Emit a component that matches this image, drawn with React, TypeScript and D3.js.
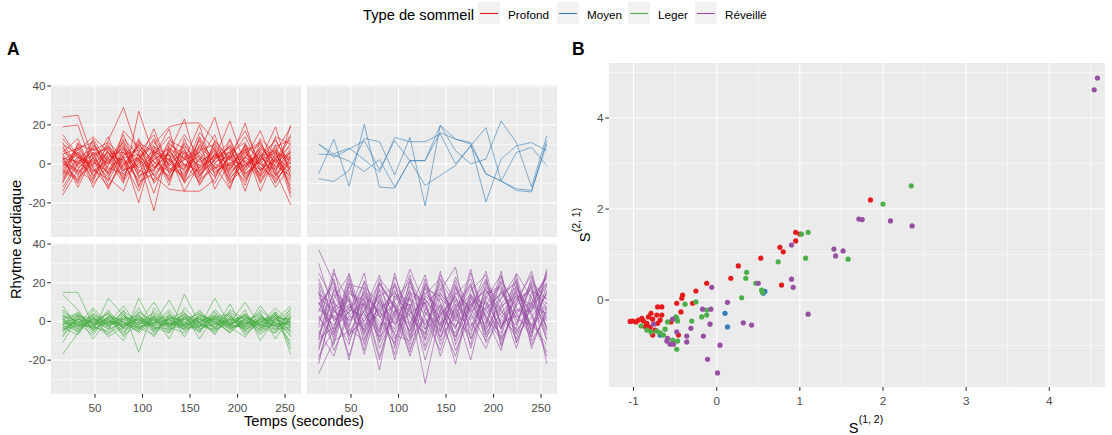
import React from "react";
import * as d3 from "d3";

// ---------- DATA ----------
const temps = [16, 32, 48, 64, 80, 96, 112, 128, 144, 160, 176, 192, 208, 224, 240, 256];

const groupNames = ["Profond", "Moyen", "Leger", "Réveillé"];
const groupColors = ["#E41A1C", "#377EB8", "#4DAF4A", "#984EA3"];

const profondSeries = [
  [24, 25, 3, -5, 8, 2, -3, 6, 0, -4, 5, 2, -1, 4, -6, 3],
  [19, 20, -2, 6, -4, 10, 1, -7, 3, 8, -2, 0, 6, -3, 2, -5],
  [15, 4, -8, 12, 29, 5, -6, 2, -3, 7, 10, -4, 3, 0, 8, -2],
  [-16, -3, 8, 2, -10, 27, 4, -8, 6, -1, 3, 12, -5, 2, 6, 19],
  [5, -6, 10, -3, 4, -20, 8, 2, -9, 14, 0, -3, 7, 11, -4, -21],
  [-2, 9, -4, 7, 0, 3, -24, 10, 5, -6, 2, 9, -8, 4, 12, 0],
  [8, 0, 12, -5, 6, -2, 4, 18, -10, 3, -7, 5, 1, -6, 3, 9],
  [-7, 4, -1, 9, -8, 13, -2, 6, 23, -4, 8, -12, 5, 0, -3, 6],
  [3, -10, 6, 0, 15, -5, 9, -3, 2, 20, -6, 4, -2, 8, 1, -9],
  [0, 6, -12, 4, 2, -8, 7, 0, -5, 6, 24, -3, 10, -7, 5, 2],
  [11, -2, 5, -9, 7, 1, -4, 12, 8, -11, 3, 22, -1, 6, -10, 4],
  [-9, 2, 0, 14, -6, 4, 10, 19, 21, 21, 12, 2, 21, -4, 7, -13],
  [6, 13, -6, 1, 9, -12, 3, 5, -14, 0, 7, -5, 3, 17, -2, 11],
  [-4, -8, 3, -13, 5, 7, -9, 1, 10, -3, 4, 8, -6, 2, 19, -7],
  [2, 7, 14, 6, -3, 0, 12, -5, 4, -8, -2, 6, 11, -9, 0, 14],
  [-12, 1, -5, 3, 11, -7, 0, 9, -2, 12, -13, 1, -4, 7, -5, 20],
  [9, -5, 2, -7, -14, 6, 15, -1, 7, -2, 9, -10, 2, -3, 10, -15],
  [-5, 10, 7, 11, 3, -9, -5, 3, -8, 9, 1, 4, -11, 12, -6, 7],
  [1, -3, -9, 8, -1, 11, 6, -11, 13, -6, 5, -1, 8, -14, 4, -3],
  [13, 3, 1, -4, 12, -3, -8, 7, -4, 2, 15, -7, 0, 5, -8, 1],
  [-6, 8, 11, -2, -5, 2, 13, -4, 6, -10, 0, 10, -3, 9, 3, -11],
  [4, -12, 4, 9, 1, -14, 5, 14, -1, 4, -5, 3, 14, -2, -7, 5],
  [-1, 5, -3, -8, 17, 8, -1, -6, 9, 1, 6, -8, 4, -5, 9, 12],
  [7, -1, 9, 3, -7, 1, 18, -2, -6, 13, -3, 7, -7, 3, -1, -6],
  [-10, 11, -7, 5, 6, -4, 2, 8, 3, -7, 11, -2, 9, -10, 6, 3],
  [3, 1, 6, -11, 0, 9, -6, -13, -14, -14, -8, 13, -5, 1, 13, -4],
  [-3, -7, 0, 6, -9, 3, 9, 4, -9, -2, 5, -6, 6, 10, -3, 8],
  [10, 5, -4, 2, 8, -6, -3, 11, 2, 6, -4, 0, -9, 4, 7, -17],
  [-8, 3, 8, -6, 4, 12, -10, 0, 7, -5, 2, 9, 1, -8, 2, 15],
  [0, -4, 3, 10, -3, -1, 7, -9, 11, 3, -10, 5, 17, 0, -9, 2],
  [5, 8, -10, -1, 13, 4, -2, 5, -3, 16, 7, -9, -2, 13, 5, -8],
  [-14, 0, 5, 8, -2, 10, 1, -4, 0, -9, 12, 3, 7, -6, 14, 10],
  [2, -9, 13, 0, 10, -11, 6, 2, 15, 4, -1, -13, 10, 2, -12, -1],
  [-3, 6, -2, -12, 3, 5, -15, 8, -7, 10, 3, 6, -14, 8, 1, 6],
];

const moyenSeries = [
  [-5, 12.7, -11.4, 20.3, -11.9, -12.4, 1.7, 1.7, 19.8, 12.7, 11, -5.1, -8.8, 5.9, 8.5, -0.8],
  [10.2, 5.1, 8.1, 2.2, -4.2, 13.6, 11.4, 11.4, 15.3, 0, 9.3, 18.6, -8.8, -12.7, -13.6, 10.2],
  [-7.6, -9, -3.4, 13.1, 11.4, -5.6, 13.6, -21.5, 19.8, 6.8, 0, 2.5, 22, 11, -11.9, 14.4],
  [5.1, 4.6, 1.4, -3.9, 2.2, -11.9, 1.7, -11, -5.9, -0.8, 9.3, -5.1, -8.8, -13.6, -14.4, 11.9],
  [10.2, 3.4, 7.6, 11.9, -2.9, 11.9, 1.7, 1.7, 16.1, 12.7, 10.2, -19.5, 2.5, 9.3, 11, 6.8],
];

const legerSeries = [
  [15, 15, -2, 5, -8, 12, -3, 1, -4, 3, 0, -2, 4, -5, 1, 8],
  [14, 6, -5, 12, 3, -4, 2, -6, 14, -1, 5, -3, -8, 2, -4, -3],
  [8, -3, 4, -2, -10, 5, -1, 11, -3, 2, -7, 6, 1, -4, 5, -17],
  [-17, -6, 2, -4, 6, -16, 7, -2, 4, -9, 3, -1, 10, -3, -6, 2],
  [-2, 3, -9, 1, -3, 2, -8, 4, -2, 6, -4, 9, -5, 1, 3, -12],
  [0, -4, 3, -1, 8, -3, 1, -5, 2, -3, 12, -2, 3, -7, 0, 6],
  [-5, 1, -2, -7, 2, -1, 10, -3, -6, 1, -2, 4, -3, 8, -2, -5],
  [3, -2, 0, 4, -4, 7, -5, 2, 0, -4, 1, -6, 2, -1, 7, -1],
  [-8, 4, -4, 0, -1, -5, 3, -9, 7, -1, -5, 2, -2, 5, -9, 3],
  [1, -6, 6, -3, 3, 0, -2, 5, -8, 4, -1, -3, 6, -10, 2, -8],
  [-3, 0, -1, 2, -6, 3, -4, 0, 3, -6, 6, -1, -4, 3, -3, 0],
  [5, -1, -3, -5, 1, -2, 5, -1, -2, 2, -3, 1, -1, -2, 4, -6],
  [-1, -3, 1, -2, 0, -6, 0, 3, -5, 0, 2, -4, 0, 4, -5, 5],
  [-6, 2, -6, 3, -3, 1, -3, -4, 1, -2, -4, 3, -6, 0, 1, -2],
  [2, -5, 2, -1, 4, -4, 2, -2, -1, 5, -1, -5, 2, -3, -2, -10],
  [-4, 1, 0, -6, -2, 4, -6, 1, -3, -3, 4, 0, -2, 1, 2, 1],
  [0, -2, -2, 1, -5, -1, 1, -3, 4, -1, -6, 2, -3, -1, -1, -4],
  [-2, 5, -5, 2, 1, -3, -1, 6, -2, 1, 0, -4, 1, -5, 3, -1],
  [4, -4, 1, -4, -1, 2, -4, -1, 0, -5, 2, -2, 4, -2, -4, 3],
  [-7, 0, -3, 6, -4, 0, 4, -2, 2, -1, -3, 3, -5, 2, 0, -7],
  [1, 3, -1, -3, 3, -2, -2, -1, -4, 3, 1, -1, 0, -4, 3, 0],
  [-3, -7, 4, 0, -2, 1, -5, 2, 1, -2, -2, 5, -1, 0, -2, 4],
  [6, -1, -7, 3, 0, -4, 2, -4, -2, 0, 3, -3, -2, 6, -1, -2],
  [-11, 2, 0, -2, 2, -1, -1, 1, 5, -4, -1, 0, 3, -3, 4, -14],
  [-1, -1, 3, -8, -3, 5, 0, -2, -1, 2, 1, -2, -3, 1, -6, 7],
  [2, 4, -2, 1, -7, -2, 3, 0, -3, -1, -5, 1, 2, -2, 1, -3],
  [-4, -2, 7, -1, 1, 3, -3, -6, 3, 1, 0, -6, 1, 3, -3, 1],
  [0, 1, -1, 4, -1, -3, -7, 3, -1, -3, 2, 4, -7, 0, 2, -5],
  [-2, -5, 2, -2, 5, 0, 2, -1, 1, 4, -4, -1, 1, -6, 0, 2],
  [3, 0, -4, 0, -3, 2, -1, 1, -4, -2, 2, -3, -1, 2, -1, -1],
  [-5, 3, 1, -1, 0, -5, 1, -3, 2, 0, -1, 1, -4, -1, 5, -3],
  [1, -2, -3, 2, -2, 1, -2, 2, -2, -5, 3, -2, 3, -2, -2, 0],
];

const reveilleSeries = [
  [37, 20, -8, 15, 3, -12, 22, 5, -6, 18, 2, 10, -4, 14, 8, 25],
  [30, 5, 12, -15, 20, 8, -5, 14, 22, -3, 9, 16, 5, -2, 20, 6],
  [-27, -10, 18, 4, -8, 25, -3, 10, -12, 7, 20, -5, 12, 24, -6, 27],
  [-20, 8, -18, 10, -2, 0, 13, -20, 6, -8, 14, 3, -10, 8, 18, -22],
  [10, -4, 5, 25, -11, 6, -14, 3, 16, 28, -9, 8, 20, -7, 2, 14],
  [5, 22, -6, 0, 14, -20, 9, -32, 4, 12, 0, -14, 7, 16, -12, 5],
  [-8, 12, 24, -9, 6, 15, 2, -6, 26, -12, 7, 22, -2, 5, 10, -9],
  [15, -15, 3, 10, -18, 4, 27, 8, -8, 3, 18, -1, 26, -11, 9, 20],
  [-3, 3, -12, 18, 9, -7, -10, 20, 0, -18, 11, 6, -8, 19, -3, 10],
  [20, 0, 9, -5, 22, 12, 5, -4, 14, 6, -20, 13, 3, -4, 23, -5],
  [-15, 17, 6, 3, -5, 20, -8, 12, -2, 23, 4, -10, 16, 2, 7, 18],
  [2, -8, 20, -12, 11, -2, 16, -13, 9, -4, 25, 1, -6, 22, -10, 3],
  [12, 6, -3, 21, 2, 9, -18, 6, 19, 1, -7, 18, 10, -14, 13, 22],
  [-10, 25, 10, -3, 16, -9, 7, 24, -5, 15, 6, -3, 21, 7, -1, -12],
  [7, -2, 15, 7, -25, 14, 11, -1, 8, -10, 16, 24, -12, 10, 17, 9],
  [25, 10, -20, 13, 5, -4, 20, 2, -15, 9, 1, 7, 14, 20, -6, 16],
  [-5, -18, 8, 0, 13, 18, -1, 15, 5, -22, 13, -8, 2, 11, 24, 0],
  [0, 14, -2, 16, -8, 2, 24, -10, 12, 4, -3, 15, 18, -5, 6, 24],
  [18, -6, 13, -7, 19, 7, -12, 18, -3, 14, 22, 2, -15, 17, 3, -18],
  [-12, 5, 1, 12, -4, 23, 3, -7, 21, 8, -12, 20, 6, -9, 15, 12],
  [8, 20, -10, 6, 24, -14, 15, 11, 2, -6, 9, -2, 23, 4, -8, 26],
  [-18, -4, 22, -6, 8, 10, -5, 22, -10, 17, 5, 11, -4, 25, 12, -3],
  [14, 9, 4, 20, -14, 5, 9, -2, 15, 0, 27, -7, 8, 13, -4, 8],
  [3, -12, 16, 8, 0, -11, 18, 7, -5, 21, -5, 14, 17, -1, 19, -10],
  [-2, 27, -4, -10, 17, 3, -16, 13, 7, -3, 12, 9, -9, 6, 5, 20],
  [22, 1, 7, 14, -6, 19, 6, -9, 24, 10, -2, 4, 12, 21, -14, 7],
  [-22, 11, -7, 2, 10, -6, 12, 4, -1, 6, 19, -11, 1, -6, 10, 23],
  [10, -7, 25, -2, 4, 16, -7, 19, 10, -15, 3, 21, -13, 9, 26, -4],
  [-7, 16, 0, 9, -20, 11, 21, -4, 3, 13, -9, 6, 15, 1, -2, 15],
  [6, 2, 11, -17, 12, -1, 4, 10, -18, 5, 14, -4, 9, 18, 4, -16],
  [16, -10, -5, 5, 20, 7, -2, 17, 13, -8, 8, 17, -1, 3, 21, 11],
  [-14, 7, 14, 11, -10, 13, 8, -15, 6, 19, -14, 12, 24, -11, 8, 4],
  [9, 18, 3, -4, 7, -17, 14, 9, 17, 2, 10, -6, 4, 15, -8, 19],
  [-9, -3, 19, 17, 3, 8, -9, 1, -8, 11, 6, 26, -3, 12, 16, -7],
];

// Panel B: S(1,2) and S(2,1) per recording
const profondS12 = [1.85, 0.95, 1.0, 0.95, 0.76, 0.8, 0.53, 0.26, 0.17, -0.12, 0.78, -0.25, -0.29, -0.41, -0.42, -0.48, -0.43, -0.71, -0.66, -0.79, -0.72, -0.66, -0.82, -0.77, -0.9, -0.88, -1.01, -0.97, -0.94, -0.84, -0.71, -0.55, -0.74, -0.77, -0.46, -0.84, -1.04, -0.86, -0.8, -0.68];
const profondS21 = [2.2, 1.49, 1.45, 1.3, 1.16, 1.06, 0.92, 0.75, 0.48, 0.37, 0.33, 0.2, -0.07, 0.11, 0.04, -0.07, -0.26, -0.15, -0.15, -0.29, -0.33, -0.33, -0.37, -0.42, -0.4, -0.46, -0.46, -0.48, -0.44, -0.51, -0.51, -0.48, -0.66, -0.77, -0.77, -0.55, -0.47, -0.58, -0.6, -0.44];

const moyenS12 = [-0.68, 0.1, 0.13, 0.56, 0.58];
const moyenS21 = [-0.77, -0.29, -0.59, 0.15, 0.19];

const legerS12 = [2.34, 2.0, 1.02, 1.1, 1.07, 1.58, 0.74, 0.36, 0.35, 0.47, 0.54, 0.55, -0.25, 0.3, -0.12, -0.12, -0.18, -0.3, -0.38, -0.91, -0.84, -0.79, -0.62, -0.64, -0.68, -0.59, -0.48, -0.47, -0.49, -0.53, -0.47, -0.48, -0.72];
const legerS21 = [2.51, 2.11, 1.45, 1.49, 0.92, 0.9, 0.84, 0.61, 0.48, 0.37, 0.22, 0.17, -0.04, 0.05, -0.22, -0.33, -0.37, -0.46, -0.09, -0.57, -0.66, -0.7, -0.64, -0.77, -0.72, -0.48, -0.4, -0.46, -0.37, -0.88, -0.9, -1.08, -0.68];

const reveilleS12 = [4.58, 4.54, 1.71, 1.75, 2.09, 2.35, 0.9, 1.41, 1.52, 1.43, 0.9, 0.5, -0.06, 0.92, 0.13, -0.17, -0.07, 1.1, -0.08, 0.32, 0.42, -0.31, -0.16, 0.04, -0.11, 0.01, -0.76, -0.53, -0.48, -0.59, -0.6, -0.56, -0.52, -0.36, -0.36];
const reveilleS21 = [4.88, 4.62, 1.78, 1.77, 1.74, 1.63, 1.21, 1.12, 1.08, 0.97, 0.46, 0.37, 0.28, 0.28, -0.05, -0.2, -0.2, -0.31, -0.53, -0.5, -0.55, -0.62, -0.79, -0.99, -1.3, -1.6, -0.53, -0.42, -0.7, -0.84, -0.9, -0.97, -0.97, -0.79, -0.92];

const xTicksA = [50, 100, 150, 200, 250];
const yTicksA = [-20, 0, 20, 40];
const xTicksB = [-1, 0, 1, 2, 3, 4];
const yTicksB = [0, 2, 4];

// ---------- LAYOUT ----------
const W = 1112;
const H = 435;
const FONT = "'Liberation Sans', Arial, sans-serif";
const PANEL_BG = "#EBEBEB";
const AXIS_TEXT = "#4D4D4D";
const TICK_COL = "#333333";

const colA = [
  { x0: 51, x1: 301 },
  { x0: 307, x1: 557 },
];
const rowA = [
  { y0: 85, y1: 237 },
  { y0: 243, y1: 394 },
];
const xDomA: [number, number] = [3.7, 266.8];
const yDomA: [number, number] = [-37.5, 40.5];

const panelB = { x0: 609, x1: 1105, y0: 63, y1: 387 };
const xDomB: [number, number] = [-1.295, 4.67];
const yDomB: [number, number] = [-1.91, 5.21];

function midpoints(ticks: number[], lo: number, hi: number) {
  const out: number[] = [];
  const step = ticks[1] - ticks[0];
  for (let t = ticks[0] - step / 2; t <= hi; t += step) {
    if (t >= lo) out.push(t);
  }
  return out;
}

function FacetPanel({ series, color, col, row, showX, showY }: any) {
  const { x0, x1 } = colA[col];
  const { y0, y1 } = rowA[row];
  const x = d3.scaleLinear().domain(xDomA).range([x0, x1]);
  const y = d3.scaleLinear().domain(yDomA).range([y1, y0]);
  const line = d3
    .line<number>()
    .x((_, i) => x(temps[i]))
    .y((d) => y(d));
  const xMinor = midpoints(xTicksA, xDomA[0], xDomA[1]);
  const yMinor = midpoints(yTicksA, yDomA[0], yDomA[1]);
  return (
    <g>
      <rect x={x0} y={y0} width={x1 - x0} height={y1 - y0} fill={PANEL_BG} />
      {yMinor.map((t) => (
        <line key={"ym" + t} x1={x0} x2={x1} y1={y(t)} y2={y(t)} stroke="#fff" strokeWidth={0.55} />
      ))}
      {xMinor.map((t) => (
        <line key={"xm" + t} x1={x(t)} x2={x(t)} y1={y0} y2={y1} stroke="#fff" strokeWidth={0.55} />
      ))}
      {yTicksA.map((t) => (
        <line key={"yM" + t} x1={x0} x2={x1} y1={y(t)} y2={y(t)} stroke="#fff" strokeWidth={1.07} />
      ))}
      {xTicksA.map((t) => (
        <line key={"xM" + t} x1={x(t)} x2={x(t)} y1={y0} y2={y1} stroke="#fff" strokeWidth={1.07} />
      ))}
      <g clipPath={`url(#clipA${col}${row})`}>
        {series.map((s: number[], i: number) => (
          <path key={i} d={line(s) || ""} fill="none" stroke={color} strokeWidth={0.75} strokeOpacity={0.8} />
        ))}
      </g>
      <clipPath id={`clipA${col}${row}`}>
        <rect x={x0} y={y0} width={x1 - x0} height={y1 - y0} />
      </clipPath>
      {showY &&
        yTicksA.map((t) => (
          <g key={"yt" + t}>
            <line x1={x0 - 3.7} x2={x0} y1={y(t)} y2={y(t)} stroke={TICK_COL} strokeWidth={1.07} />
            <text x={x0 - 5.5} y={y(t) + 4} textAnchor="end" fontSize={11.7} fill={AXIS_TEXT} fontFamily={FONT}>
              {t}
            </text>
          </g>
        ))}
      {showX &&
        xTicksA.map((t) => (
          <g key={"xt" + t}>
            <line x1={x(t)} x2={x(t)} y1={y1} y2={y1 + 3.7} stroke={TICK_COL} strokeWidth={1.07} />
            <text x={x(t)} y={y1 + 17.5} textAnchor="middle" fontSize={11.7} fill={AXIS_TEXT} fontFamily={FONT}>
              {t}
            </text>
          </g>
        ))}
    </g>
  );
}

function ScatterPanel() {
  const { x0, x1, y0, y1 } = panelB;
  const x = d3.scaleLinear().domain(xDomB).range([x0, x1]);
  const y = d3.scaleLinear().domain(yDomB).range([y1, y0]);
  const xMinor = midpoints(xTicksB, xDomB[0], xDomB[1]);
  const yMinor = [-1, 1, 3, 5].filter((t) => t >= yDomB[0] && t <= yDomB[1]);
  const groups = [
    { xs: profondS12, ys: profondS21, c: groupColors[0] },
    { xs: moyenS12, ys: moyenS21, c: groupColors[1] },
    { xs: legerS12, ys: legerS21, c: groupColors[2] },
    { xs: reveilleS12, ys: reveilleS21, c: groupColors[3] },
  ];
  return (
    <g>
      <rect x={x0} y={y0} width={x1 - x0} height={y1 - y0} fill={PANEL_BG} />
      {yMinor.map((t) => (
        <line key={"ym" + t} x1={x0} x2={x1} y1={y(t)} y2={y(t)} stroke="#fff" strokeWidth={0.55} />
      ))}
      {xMinor.map((t) => (
        <line key={"xm" + t} x1={x(t)} x2={x(t)} y1={y0} y2={y1} stroke="#fff" strokeWidth={0.55} />
      ))}
      {yTicksB.map((t) => (
        <line key={"yM" + t} x1={x0} x2={x1} y1={y(t)} y2={y(t)} stroke="#fff" strokeWidth={1.07} />
      ))}
      {xTicksB.map((t) => (
        <line key={"xM" + t} x1={x(t)} x2={x(t)} y1={y0} y2={y1} stroke="#fff" strokeWidth={1.07} />
      ))}
      {groups.map((g, gi) =>
        g.xs.map((v, i) => <circle key={gi + "-" + i} cx={x(v)} cy={y(g.ys[i])} r={2.6} fill={g.c} />)
      )}
      {yTicksB.map((t) => (
        <g key={"yt" + t}>
          <line x1={x0 - 3.7} x2={x0} y1={y(t)} y2={y(t)} stroke={TICK_COL} strokeWidth={1.07} />
          <text x={x0 - 5.5} y={y(t) + 4} textAnchor="end" fontSize={11.7} fill={AXIS_TEXT} fontFamily={FONT}>
            {t}
          </text>
        </g>
      ))}
      {xTicksB.map((t) => (
        <g key={"xt" + t}>
          <line x1={x(t)} x2={x(t)} y1={y1} y2={y1 + 3.7} stroke={TICK_COL} strokeWidth={1.07} />
          <text x={x(t)} y={y1 + 17.5} textAnchor="middle" fontSize={11.7} fill={AXIS_TEXT} fontFamily={FONT}>
            {t}
          </text>
        </g>
      ))}
      {/* axis titles */}
      <text x={866} y={433} textAnchor="middle" fontFamily={FONT} fill="#000">
        <tspan fontSize={14.7}>S</tspan>
        <tspan fontSize={10.5} dy={-10}>
          (1, 2)
        </tspan>
      </text>
      <text transform={`translate(590,${(y0 + y1) / 2}) rotate(-90)`} textAnchor="middle" fontFamily={FONT} fill="#000">
        <tspan fontSize={14.7}>S</tspan>
        <tspan fontSize={10.5} dy={-10}>
          (2, 1)
        </tspan>
      </text>
    </g>
  );
}

function Legend() {
  const keyX = [478, 557, 628, 695];
  return (
    <g fontFamily={FONT}>
      <text x={363} y={20} fontSize={14.7} fill="#000">
        Type de sommeil
      </text>
      {groupNames.map((n, i) => (
        <g key={n}>
          <rect x={keyX[i]} y={2} width={22} height={22} fill="#F2F2F2" />
          <line x1={keyX[i] + 2} x2={keyX[i] + 20} y1={13.5} y2={13.5} stroke={groupColors[i]} strokeWidth={1.07} />
          <text x={keyX[i] + 30} y={19} fontSize={11.7} fill="#000">
            {n}
          </text>
        </g>
      ))}
    </g>
  );
}

export default function App() {
  return (
    <svg
      width={W}
      height={H}
      viewBox={`0 0 ${W} ${H}`}
      style={{ position: "absolute", left: 0, top: 0, background: "#fff" }}
    >
      <rect x={0} y={0} width={W} height={H} fill="#fff" />
      <Legend />
      <text x={7} y={55} fontSize={17.5} fontWeight="bold" fontFamily={FONT}>
        A
      </text>
      <text x={572} y={55} fontSize={17.5} fontWeight="bold" fontFamily={FONT}>
        B
      </text>
      <FacetPanel series={profondSeries} color={groupColors[0]} col={0} row={0} showX={false} showY={true} />
      <FacetPanel series={moyenSeries} color={groupColors[1]} col={1} row={0} showX={false} showY={false} />
      <FacetPanel series={legerSeries} color={groupColors[2]} col={0} row={1} showX={true} showY={true} />
      <FacetPanel series={reveilleSeries} color={groupColors[3]} col={1} row={1} showX={true} showY={false} />
      <text
        transform={`translate(21,${(rowA[0].y0 + rowA[1].y1) / 2}) rotate(-90)`}
        textAnchor="middle"
        fontSize={14.7}
        fontFamily={FONT}
        fill="#000"
      >
        Rhytme cardiaque
      </text>
      <text x={(colA[0].x0 + colA[1].x1) / 2} y={426} textAnchor="middle" fontSize={14.7} fontFamily={FONT} fill="#000">
        Temps (secondes)
      </text>
      <ScatterPanel />
    </svg>
  );
}
